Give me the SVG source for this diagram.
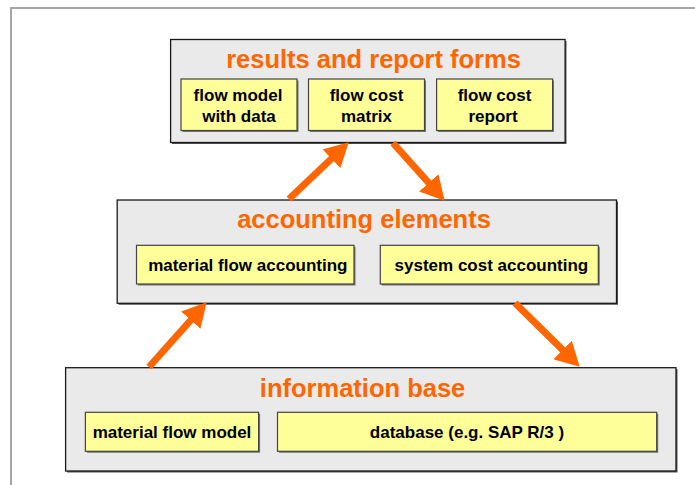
<svg xmlns="http://www.w3.org/2000/svg" width="695" height="485" viewBox="0 0 695 485">
  <style>
    .frame { fill: #FFFFFF; stroke: #A6A6A6; stroke-width: 2; }
    .box { fill: #EAEAEA; stroke: #1A1A1A; stroke-width: 1.3; }
    .shadow { fill: #555555; }
    .sub { fill: #FFFF99; stroke: #444444; stroke-width: 1.2; }
    .subshadow { fill: #777777; }
    .title { font-family: "Liberation Sans", Arial, sans-serif; font-weight: bold; font-size: 25.5px; fill: #FF6600; text-anchor: middle; }
    .label { font-family: "Liberation Sans", Arial, sans-serif; font-weight: bold; font-size: 17px; fill: #000000; text-anchor: middle; }
    .arrow { stroke: #FF6600; stroke-width: 7; fill: none; marker-end: url(#head); }
  </style>
  <defs>
    <marker id="head" markerUnits="userSpaceOnUse" markerWidth="24" markerHeight="26" viewBox="0 0 22 24" refX="10" refY="12" orient="auto">
      <path d="M0,0 L22,12 L0,24 z" fill="#FF6600"/>
    </marker>
  </defs>

  <rect class="frame" x="11" y="8" width="700" height="500"/>

  <g id="results">
    <rect class="shadow" x="172" y="41" width="394.5" height="103"/>
    <rect class="box" x="170.6" y="39.5" width="394.5" height="103"/>
    <text class="title" x="373.5" y="68">results and report forms</text>
    <g id="flow-model-data">
      <rect class="subshadow" x="182.5" y="80.5" width="116" height="51.5"/>
      <rect class="sub" x="181" y="79" width="116" height="51.5"/>
      <text class="label" x="238" y="100.5">flow model</text>
      <text class="label" x="239" y="121.5">with data</text>
    </g>
    <g id="flow-cost-matrix">
      <rect class="subshadow" x="310" y="80.5" width="116" height="51.5"/>
      <rect class="sub" x="308.5" y="79" width="116" height="51.5"/>
      <text class="label" x="366.5" y="100.5">flow cost</text>
      <text class="label" x="366.5" y="121.5">matrix</text>
    </g>
    <g id="flow-cost-report">
      <rect class="subshadow" x="438" y="80.5" width="116" height="51.5"/>
      <rect class="sub" x="436.6" y="79" width="116" height="51.5"/>
      <text class="label" x="494.5" y="100.5">flow cost</text>
      <text class="label" x="493" y="121.5">report</text>
    </g>
  </g>

  <g id="accounting">
    <rect class="shadow" x="118.7" y="201.5" width="499.3" height="103.3"/>
    <rect class="box" x="117.2" y="200" width="499.3" height="103.3"/>
    <text class="title" x="364" y="228">accounting elements</text>
    <g id="material-flow-accounting">
      <rect class="subshadow" x="138" y="246.8" width="217.5" height="38.7"/>
      <rect class="sub" x="136.5" y="245.3" width="217.5" height="38.7"/>
      <text class="label" x="247.8" y="270.5">material flow accounting</text>
    </g>
    <g id="system-cost-accounting">
      <rect class="subshadow" x="381.8" y="246.8" width="218" height="38.7"/>
      <rect class="sub" x="380.3" y="245.3" width="218" height="38.7"/>
      <text class="label" x="491.4" y="270.5">system cost accounting</text>
    </g>
  </g>

  <g id="information">
    <rect class="shadow" x="67.1" y="369.2" width="610.4" height="103.3"/>
    <rect class="box" x="65.6" y="367.7" width="610.4" height="103.3"/>
    <text class="title" x="362.6" y="396.5">information base</text>
    <g id="material-flow-model">
      <rect class="subshadow" x="86.9" y="413.8" width="173.2" height="39"/>
      <rect class="sub" x="85.4" y="412.3" width="173.2" height="39"/>
      <text class="label" x="172" y="437.5">material flow model</text>
    </g>
    <g id="database">
      <rect class="subshadow" x="279" y="413.8" width="379.2" height="39"/>
      <rect class="sub" x="277.5" y="412.3" width="379.2" height="39"/>
      <text class="label" x="467" y="437.5">database (e.g. SAP R/3 )</text>
    </g>
  </g>

  <g id="connectors">
    <line class="arrow" x1="289" y1="199" x2="339.3" y2="151.3"/>
    <line class="arrow" x1="393" y1="143" x2="436" y2="191"/>
    <line class="arrow" x1="149" y1="367" x2="198" y2="312"/>
    <line class="arrow" x1="515" y1="303" x2="570.4" y2="357.6"/>
  </g>
</svg>
